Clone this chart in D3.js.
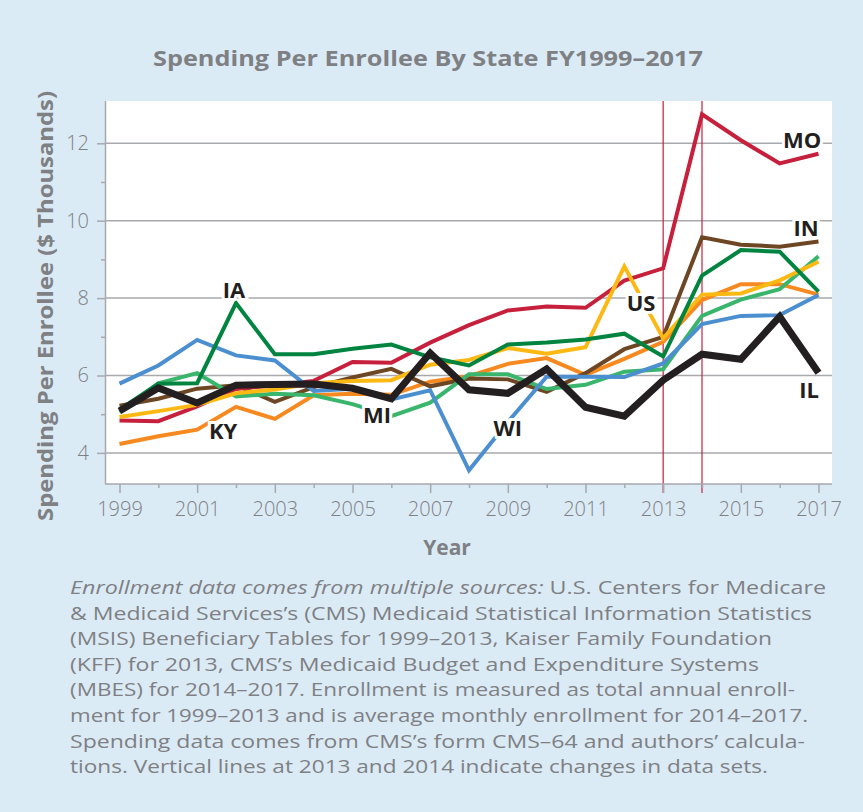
<!DOCTYPE html>
<meta charset="utf-8">
<head>
  <title>Spending Per Enrollee By State</title>
  <style>
    body { margin: 0; background: #dbebf6; }
    svg { display: block; font-family: "Open Sans", sans-serif; }
  </style>
</head>
<script src="https://d3js.org/d3.v7.min.js"></script>
<div id="my_dataviz"></div>
<script>

// years on the x axis
var years = d3.range(1999, 2018);
var xTickYears = [1999, 2001, 2003, 2005, 2007, 2009, 2011, 2013, 2015, 2017];
var yTicks = [4, 6, 8, 10, 12];
var breakYears = [2013, 2014];

// spending per enrollee ($ thousands)
var kyValues = [4.23, 4.43, 4.60, 5.19, 4.88, 5.49, 5.53, 5.50, 5.84, 5.98, 6.30, 6.45, 6.02, 6.43, 6.87, 7.95, 8.36, 8.36, 8.09];
var inValues = [5.22, 5.40, 5.66, 5.75, 5.32, 5.70, 5.95, 6.17, 5.72, 5.92, 5.90, 5.58, 6.06, 6.68, 7.00, 9.57, 9.38, 9.33, 9.46];
var miValues = [5.05, 5.80, 6.06, 5.46, 5.53, 5.49, 5.26, 4.95, 5.30, 6.03, 6.03, 5.65, 5.76, 6.10, 6.16, 7.54, 7.96, 8.23, 9.08];
var moValues = [4.84, 4.82, 5.20, 5.65, 5.75, 5.86, 6.35, 6.33, 6.85, 7.30, 7.68, 7.78, 7.75, 8.45, 8.77, 12.75, 12.08, 11.48, 11.73];
var usValues = [4.93, 5.08, 5.24, 5.54, 5.64, 5.80, 5.86, 5.88, 6.28, 6.40, 6.71, 6.56, 6.73, 8.82, 6.96, 8.09, 8.12, 8.46, 8.94];
var wiValues = [5.79, 6.26, 6.92, 6.52, 6.39, 5.60, 5.66, 5.38, 5.62, 3.55, 4.80, 5.97, 5.97, 5.96, 6.31, 7.33, 7.54, 7.56, 8.08];
var iaValues = [5.12, 5.79, 5.80, 7.87, 6.55, 6.55, 6.69, 6.80, 6.47, 6.26, 6.80, 6.85, 6.93, 7.08, 6.49, 8.58, 9.24, 9.20, 8.17];
var ilValues = [5.08, 5.68, 5.29, 5.75, 5.77, 5.78, 5.67, 5.40, 6.58, 5.63, 5.54, 6.17, 5.18, 4.95, 5.88, 6.55, 6.42, 7.52, 6.07];

// series in drawing order (black IL on top)
var series = [
  {name: "KY", values: kyValues, color: "#f6891f", width: 4},
  {name: "IN", values: inValues, color: "#6d4624", width: 4},
  {name: "MI", values: miValues, color: "#3ab56c", width: 4},
  {name: "MO", values: moValues, color: "#c6203d", width: 4},
  {name: "US", values: usValues, color: "#fdb913", width: 4},
  {name: "WI", values: wiValues, color: "#4b8fd0", width: 4},
  {name: "IA", values: iaValues, color: "#00843f", width: 4},
  {name: "IL", values: ilValues, color: "#231f20", width: 7}
];

// where the state names sit, in data units
var labelNames = ["MO", "IN", "IA", "US", "KY", "MI", "WI", "IL"];
var labelYears = [2016.58, 2016.68, 2001.95, 2012.43, 2001.67, 2005.63, 2009.0, 2016.76];
var labelValues = [12.09, 9.81, 8.21, 7.87, 4.57, 4.98, 4.64, 5.63];

var captionLines = [
  ["Enrollment data comes from multiple sources:", " U.S. Centers for Medicare"],
  ["", "& Medicaid Services\u2019s (CMS) Medicaid Statistical Information Statistics"],
  ["", "(MSIS) Beneficiary Tables for 1999\u20132013, Kaiser Family Foundation"],
  ["", "(KFF) for 2013, CMS\u2019s Medicaid Budget and Expenditure Systems"],
  ["", "(MBES) for 2014\u20132017. Enrollment is measured as total annual enroll-"],
  ["", "ment for 1999\u20132013 and is average monthly enrollment for 2014\u20132017."],
  ["", "Spending data comes from CMS\u2019s form CMS\u201364 and authors\u2019 calcula-"],
  ["", "tions. Vertical lines at 2013 and 2014 indicate changes in data sets."]
];
var captionWidths = [756, 742, 702, 689, 725, 738, 735, 698];

var W = 863, H = 812;
var plot = {left: 105, right: 832, top: 101, bottom: 484};
var grey = "#a7a9ac", textGrey = "#7f8083";

var svg = d3.select("#my_dataviz")
  .append("svg")
    .attr("width", W)
    .attr("height", H);

svg.append("rect").attr("width", W).attr("height", H).attr("fill", "#dbebf6");

var x = d3.scaleLinear().domain([1999, 2017]).range([119.5, 818.5]);
var y = d3.scaleLinear().domain([4, 12]).range([452.9, 143.3]);

// white plot area
svg.append("rect")
  .attr("x", plot.left).attr("y", plot.top)
  .attr("width", plot.right - plot.left).attr("height", plot.bottom - plot.top)
  .attr("fill", "white");

// gridlines
svg.append("g").selectAll("line")
  .data(yTicks)
  .join("line")
    .attr("x1", plot.left).attr("x2", plot.right)
    .attr("y1", d => y(d)).attr("y2", d => y(d))
    .attr("stroke", grey).attr("stroke-width", 1.5);

// vertical lines where the data sets change
svg.append("g").selectAll("line")
  .data(breakYears)
  .join("line")
    .attr("x1", d => x(d)).attr("x2", d => x(d))
    .attr("y1", plot.top).attr("y2", plot.bottom + 9)
    .attr("stroke", "#c6203d").attr("stroke-width", 1.2);

// Y axis (major + minor ticks)
svg.append("g")
  .attr("transform", "translate(" + plot.left + ",0)")
  .call(d3.axisLeft(y).tickValues(yTicks).tickSize(8).tickPadding(8).tickFormat(d3.format("d")));
svg.append("g")
  .attr("transform", "translate(" + plot.left + ",0)")
  .call(d3.axisLeft(y).tickValues([5, 7, 9, 11]).tickSize(4).tickFormat(""));

// X axis (major + minor ticks)
svg.append("g")
  .attr("transform", "translate(0," + plot.bottom + ")")
  .call(d3.axisBottom(x).tickValues(xTickYears).tickSize(9).tickPadding(9).tickFormat(d3.format("d")));
svg.append("g")
  .attr("transform", "translate(0," + plot.bottom + ")")
  .call(d3.axisBottom(x).tickValues(years.filter(d => d % 2 === 0)).tickSize(4).tickFormat(""));

svg.selectAll(".domain").remove();
svg.selectAll(".tick line").attr("stroke", grey).attr("stroke-width", 1.5);
svg.selectAll(".tick text")
  .attr("fill", textGrey)
  .style("font-family", "'Open Sans', sans-serif")
  .style("font-size", "20px")
  .style("font-weight", 300);

// frame lines
svg.append("line")
  .attr("x1", plot.left + 0.5).attr("x2", plot.left + 0.5)
  .attr("y1", plot.top).attr("y2", plot.bottom)
  .attr("stroke", grey).attr("stroke-width", 1.5);
svg.append("line")
  .attr("x1", plot.left).attr("x2", plot.right)
  .attr("y1", plot.bottom).attr("y2", plot.bottom)
  .attr("stroke", grey).attr("stroke-width", 1.5);

// the lines
var line = d3.line()
  .x((d, i) => x(years[i]))
  .y(d => y(d));

svg.append("g").selectAll("path")
  .data(series)
  .join("path")
    .attr("fill", "none")
    .attr("stroke", d => d.color)
    .attr("stroke-width", d => d.width)
    .attr("stroke-linejoin", "miter")
    .attr("d", d => line(d.values));

// state labels with a white halo
svg.append("g").selectAll("text")
  .data(labelNames)
  .join("text")
    .attr("x", (d, i) => x(labelYears[i]))
    .attr("y", (d, i) => y(labelValues[i]))
    .attr("dy", "0.36em")
    .attr("text-anchor", "middle")
    .attr("fill", "#231f20")
    .attr("stroke", "white")
    .attr("stroke-width", 6)
    .attr("paint-order", "stroke")
    .style("font-size", "22px")
    .style("font-weight", "bold")
    .text(d => d);

// title
svg.append("text")
  .attr("x", 428).attr("y", 66)
  .attr("text-anchor", "middle")
  .attr("fill", textGrey)
  .attr("textLength", 550)
  .attr("lengthAdjust", "spacingAndGlyphs")
  .style("font-size", "22px")
  .style("font-weight", "bold")
  .text("Spending Per Enrollee By State FY1999\u20132017");

// axis titles
svg.append("text")
  .attr("x", 447).attr("y", 555)
  .attr("text-anchor", "middle")
  .attr("fill", textGrey)
  .style("font-size", "21px")
  .style("font-weight", "bold")
  .text("Year");

svg.append("text")
  .attr("transform", "translate(53,306) rotate(-90)")
  .attr("text-anchor", "middle")
  .attr("fill", textGrey)
  .attr("textLength", 430)
  .attr("lengthAdjust", "spacingAndGlyphs")
  .style("font-size", "22px")
  .style("font-weight", "bold")
  .text("Spending Per Enrollee ($ Thousands)");

// caption
var caption = svg.append("g").selectAll("text")
  .data(captionLines)
  .join("text")
    .attr("x", 70)
    .attr("y", (d, i) => 594 + i * 25.6)
    .attr("fill", textGrey)
    .attr("textLength", (d, i) => captionWidths[i])
    .attr("lengthAdjust", "spacingAndGlyphs")
    .style("font-size", "18px");

caption.append("tspan")
  .style("font-style", "italic")
  .text(d => d[0]);
caption.append("tspan")
  .text(d => d[1]);

</script>
